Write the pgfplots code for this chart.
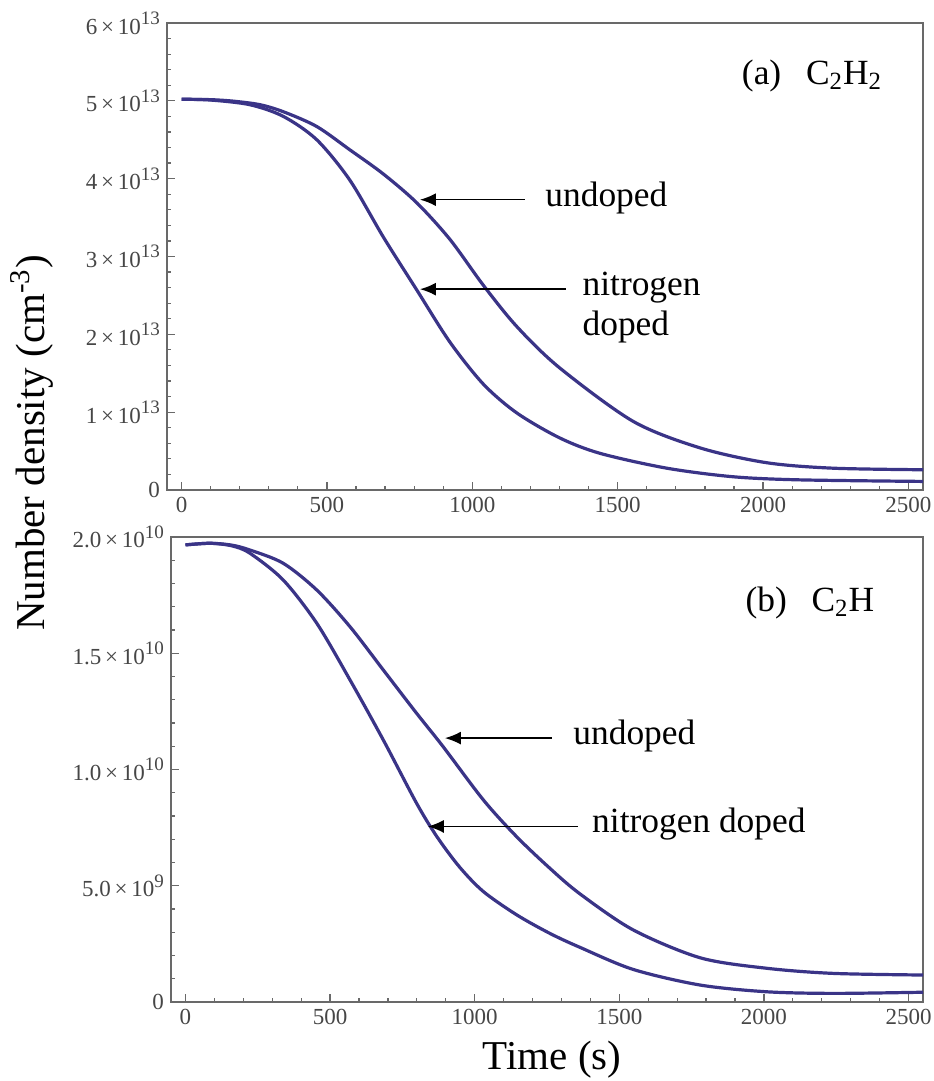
\documentclass[border=0pt]{standalone}
\usepackage{fontspec}
\setmainfont{Liberation Serif}
\usepackage{pgfplots}
\pgfplotsset{compat=1.18}
\usetikzlibrary{arrows.meta}

\definecolor{curve}{RGB}{58,52,135}
\definecolor{frame}{RGB}{105,105,105}
\definecolor{ticktext}{RGB}{70,70,70}

% a x 10^b, the way the tick labels are printed
\newcommand{\sci}[2]{#1\,×\,10\raisebox{0.42em}{\fontsize{9.5}{10}\selectfont #2}}
\newcommand{\annfont}{\fontsize{17.7}{20}\selectfont}
\newcommand{\labfont}{\fontsize{20.5}{24}\selectfont}

\tikzset{
  arrowann/.style={-{Latex[length=8pt,width=6.5pt]}, line width=0.8pt, black},
  density/.style={curve, line width=1.6pt, smooth, mark=none},
}

\pgfplotsset{
  panel/.style={
    scale only axis,
    anchor=south west,
    xmin=-50, xmax=2550,
    axis line style={frame, line width=0.8pt},
    tick style={frame, line width=0.6pt},
    tick align=inside,
    xtick pos=bottom, ytick pos=left,
    major tick length=4pt, minor tick length=2pt,
    xtick={0,500,1000,1500,2000,2500},
    xticklabels={0,500,1000,1500,2000,2500},
    minor x tick num=4, minor y tick num=4,
    scaled y ticks=false,
    tick label style={font=\fontsize{11.5}{12}\selectfont, text=ticktext},
  },
}

\begin{document}
\begin{tikzpicture}
\useasboundingbox (0,0) rectangle (466.5pt,540.5pt);

% ---------- (a) C2H2 ----------
\begin{axis}[panel, at={(83.5pt,295.5pt)}, width=378pt, height=233.5pt,
  ymin=0, ymax=6e13,
  ytick={0,1e13,2e13,3e13,4e13,5e13,6e13},
  yticklabels={0,\sci{1}{13},\sci{2}{13},\sci{3}{13},\sci{4}{13},\sci{5}{13},\sci{6}{13}}]
% undoped
\addplot[density] coordinates {(0,5.02e13)(100,5.015e13)(180,4.995e13)(270,4.95e13)(350,4.86e13)
  (465,4.67e13)(579,4.37e13)(694,4.06e13)(809,3.69e13)(923,3.22e13)(1038,2.63e13)
  (1153,2.10e13)(1300,1.57e13)(1554,0.88e13)(1784,0.54e13)
  (2013,0.35e13)(2241,0.28e13)(2550,0.26e13)};
% nitrogen doped
\addplot[density] coordinates {(0,5.02e13)(100,5.01e13)(235,4.95e13)(350,4.80e13)(465,4.50e13)
  (579,3.98e13)(694,3.25e13)(809,2.57e13)(923,1.90e13)(1038,1.36e13)(1153,0.99e13)
  (1300,0.67e13)(1440,0.47e13)(1669,0.28e13)(1897,0.17e13)
  (2127,0.13e13)(2550,0.11e13)};
\draw[arrowann] (axis cs:1181,3.73e13) -- (axis cs:820,3.73e13);
\node[anchor=west, inner sep=0pt, font=\annfont] at (axis cs:1250,3.75e13) {undoped};
\draw[arrowann] (axis cs:1322,2.58e13) -- (axis cs:820,2.58e13);
\node[anchor=west, inner sep=0pt, font=\annfont] at (axis cs:1378,2.595e13) {nitrogen};
\node[anchor=west, inner sep=0pt, font=\annfont] at (axis cs:1378,2.09e13) {doped};
\node[anchor=west, inner sep=0pt, font=\annfont] at (axis cs:1926,5.32e13)
  {(a)\hspace{0.7em}C\textsubscript{2}H\textsubscript{2}};
\end{axis}

% ---------- (b) C2H ----------
\begin{axis}[panel, at={(85.5pt,39.5pt)}, width=376pt, height=232.5pt,
  ymin=0, ymax=2e10,
  ytick={0,0.5e10,1e10,1.5e10,2e10},
  yticklabels={0,\sci{5.0}{9},\sci{1.0}{10},\sci{1.5}{10},\sci{2.0}{10}}]
% undoped
\addplot[density] coordinates {(0,1.966e10)(85,1.973e10)(160,1.965e10)(223,1.944e10)(338,1.887e10)
  (454,1.772e10)(569,1.614e10)(684,1.428e10)(799,1.242e10)(891,1.098e10)(1030,0.869e10)
  (1145,0.711e10)(1260,0.575e10)(1364,0.465e10)(1548,0.31e10)(1780,0.19e10)
  (2010,0.145e10)(2240,0.123e10)(2550,0.116e10)};
% nitrogen doped
\addplot[density] coordinates {(0,1.966e10)(85,1.973e10)(160,1.962e10)(223,1.93e10)(338,1.815e10)
  (454,1.629e10)(569,1.385e10)(684,1.127e10)(799,0.855e10)(870,0.71e10)(948,0.58e10)
  (1030,0.475e10)(1145,0.375e10)(1260,0.295e10)(1364,0.235e10)(1548,0.14e10)
  (1779,0.073e10)(2009,0.044e10)(2240,0.037e10)(2550,0.042e10)};
\draw[arrowann] (axis cs:1267,1.135e10) -- (axis cs:897,1.135e10);
\node[anchor=west, inner sep=0pt, font=\annfont] at (axis cs:1340,1.145e10) {undoped};
\draw[arrowann] (axis cs:1357,0.755e10) -- (axis cs:838,0.755e10);
\node[anchor=west, inner sep=0pt, font=\annfont] at (axis cs:1405,0.765e10) {nitrogen doped};
\node[anchor=west, inner sep=0pt, font=\annfont] at (axis cs:1935,1.716e10)
  {(b)\hspace{0.7em}C\textsubscript{2}H};
\end{axis}

% shared axis titles
\node[rotate=90, font=\labfont] at (16pt,319pt) {Number density (cm\textsuperscript{-3})};
\node[font=\labfont] at (276pt,10.5pt) {Time (s)};
\end{tikzpicture}
\end{document}
